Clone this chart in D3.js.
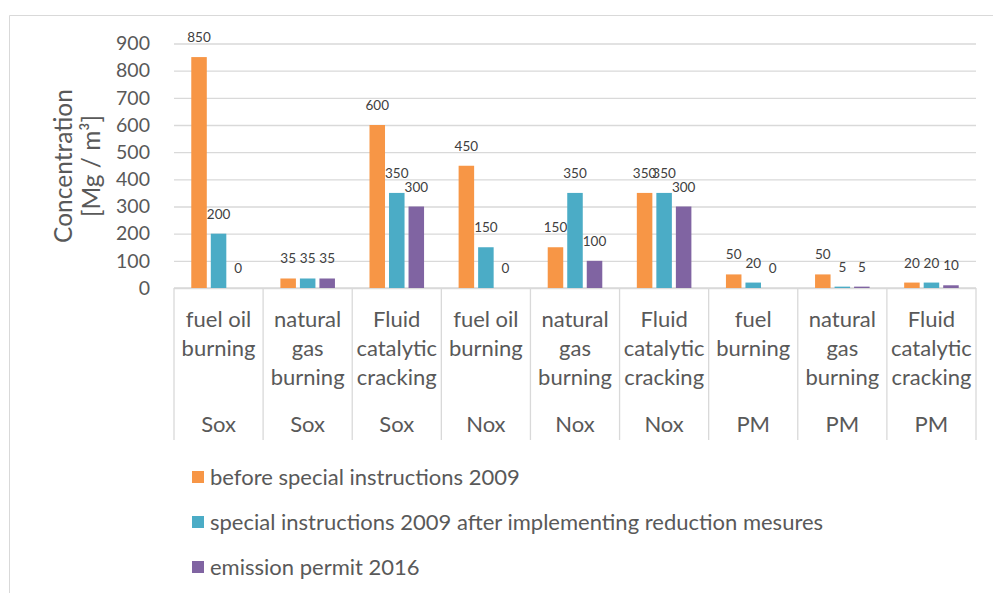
<!DOCTYPE html>
<html>
<head>
<meta charset="utf-8">
<script src="https://cdn.jsdelivr.net/npm/d3@7"></script>
<style>
  body { margin: 0; background: #fff; }
  svg { display: block; font-family: Lato, "Open Sans", sans-serif; }
</style>
</head>
<body>
<svg id="chart" width="993" height="593"></svg>
<script>
const processes = [
  ['fuel oil', 'burning'],
  ['natural', 'gas', 'burning'],
  ['Fluid', 'catalytic', 'cracking'],
  ['fuel oil', 'burning'],
  ['natural', 'gas', 'burning'],
  ['Fluid', 'catalytic', 'cracking'],
  ['fuel', 'burning'],
  ['natural', 'gas', 'burning'],
  ['Fluid', 'catalytic', 'cracking']
];
const pollutants = ['Sox', 'Sox', 'Sox', 'Nox', 'Nox', 'Nox', 'PM', 'PM', 'PM'];

const seriesNames = [
  'before special instructions 2009',
  'special instructions 2009 after implementing reduction mesures',
  'emission permit 2016'
];
const before2009 = [850, 35, 600, 450, 150, 350, 50, 50, 20];
const after2009 = [200, 35, 350, 150, 350, 350, 20, 5, 20];
const permit2016 = [0, 35, 300, 0, 100, 300, 0, 5, 10];
const yTicks = [0, 100, 200, 300, 400, 500, 600, 700, 800, 900];

const colors = ['#f79646', '#4bacc6', '#8064a2'];
const seriesValues = [before2009, after2009, permit2016];

const svg = d3.select('#chart');
const plot = { left: 174, right: 976, top: 43.5, bottom: 288 };
const axisBottom = 440;

// outer chart frame
svg.append('path')
  .attr('d', 'M9.5,593V15.5H993')
  .attr('fill', 'none')
  .attr('stroke', '#d9d9d9');

const x0 = d3.scaleBand()
  .domain(d3.range(processes.length))
  .range([plot.left, plot.right]);

const x1 = d3.scaleBand()
  .domain(d3.range(seriesNames.length))
  .range([0, x0.bandwidth()])
  .paddingInner(0.205)
  .paddingOuter(0.885);

const y = d3.scaleLinear().domain([0, 900]).range([plot.bottom, plot.top]);

// gridlines
svg.append('g')
  .attr('transform', `translate(${plot.left},0)`)
  .call(d3.axisLeft(y).tickValues(yTicks).tickSize(-(plot.right - plot.left)).tickFormat(''))
  .call(g => g.select('.domain').remove())
  .call(g => g.selectAll('line').attr('stroke', '#d9d9d9').attr('stroke-width', 1.3));

// y tick labels
svg.append('g')
  .attr('transform', `translate(${plot.left - 24},0)`)
  .call(d3.axisLeft(y).tickValues(yTicks).tickSize(0).tickPadding(0))
  .call(g => g.select('.domain').remove())
  .call(g => g.selectAll('text')
    .attr('fill', '#595959')
    .style('font-size', '19.5px')
    .style('font-family', 'Lato, sans-serif'));

// y axis title
svg.append('text')
  .attr('transform', 'translate(72,166) rotate(-90)')
  .attr('text-anchor', 'middle')
  .attr('fill', '#595959')
  .style('font-size', '24.5px')
  .selectAll('tspan')
  .data(['Concentration', '[Mg / m³]'])
  .join('tspan')
  .attr('x', 0)
  .attr('y', (d, i) => i * 28)
  .text(d => d);

// category axis
const catAxis = svg.append('g').attr('stroke', '#d9d9d9').attr('stroke-width', 1.3);
catAxis.append('line')
  .attr('x1', plot.left).attr('x2', plot.right)
  .attr('y1', y(0)).attr('y2', y(0));
catAxis.selectAll('line.sep')
  .data(d3.range(processes.length + 1))
  .join('line')
  .attr('class', 'sep')
  .attr('x1', i => i < processes.length ? x0(i) : plot.right)
  .attr('x2', i => i < processes.length ? x0(i) : plot.right)
  .attr('y1', y(0))
  .attr('y2', axisBottom);

const catLabels = svg.append('g')
  .attr('fill', '#595959')
  .attr('text-anchor', 'middle')
  .style('font-size', '22px');

processes.forEach((lines, i) => {
  const cx = x0(i) + x0.bandwidth() / 2;
  catLabels.append('text')
    .selectAll('tspan')
    .data(lines)
    .join('tspan')
    .attr('x', cx)
    .attr('y', (d, j) => 327 + j * 29)
    .text(d => d);
  catLabels.append('text')
    .attr('x', cx)
    .attr('y', 432)
    .text(pollutants[i]);
});

// bars + labels
seriesValues.forEach((values, s) => {
  const g = svg.append('g');
  g.selectAll('rect')
    .data(values)
    .join('rect')
    .attr('x', (d, i) => x0(i) + x1(s))
    .attr('width', x1.bandwidth())
    .attr('y', d => y(d))
    .attr('height', d => y(0) - y(d))
    .attr('fill', colors[s]);
  g.selectAll('text')
    .data(values)
    .join('text')
    .attr('x', (d, i) => x0(i) + x1(s) + x1.bandwidth() / 2)
    .attr('y', d => y(d) - 15)
    .attr('text-anchor', 'middle')
    .attr('fill', '#404040')
    .style('font-size', '13.5px')
    .text(d => d);
});

// legend
const legend = svg.append('g')
  .selectAll('g')
  .data(seriesNames)
  .join('g')
  .attr('transform', (d, i) => `translate(192,${477 + i * 45})`);
legend.append('rect')
  .attr('x', 0).attr('y', -6)
  .attr('width', 12).attr('height', 12)
  .attr('fill', (d, i) => colors[i]);
legend.append('text')
  .attr('x', 18)
  .attr('y', 7.5)
  .attr('fill', '#595959')
  .style('font-size', '22px')
  .text(d => d);
</script>
</body>
</html>
